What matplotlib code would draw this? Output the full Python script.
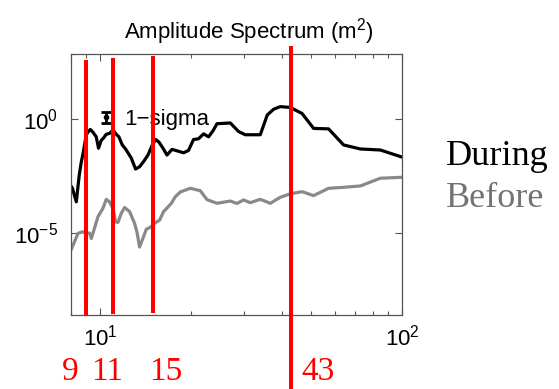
import matplotlib
matplotlib.use("Agg")
import matplotlib.pyplot as plt
from matplotlib import transforms
from matplotlib.ticker import FixedLocator, LogLocator, NullFormatter, NullLocator

# Amplitude spectra (frequency, amplitude in m^2)
freq_during = [8.0, 8.08, 8.33, 8.52, 8.65, 8.79, 8.99, 9.13, 9.27, 9.46, 9.70, 9.87,
               10.08, 10.25, 10.47, 10.73, 11.02, 11.30, 11.53, 11.83, 12.13, 12.67,
               13.09, 13.50, 13.92, 14.39, 14.88, 15.26, 15.65, 16.14, 16.64, 17.29,
               18.88, 19.61, 20.38, 21.17, 22.00, 22.86, 23.63, 24.37, 26.98, 28.74,
               30.24, 33.91, 35.77, 37.53, 39.50, 42.64, 46.64, 50.93, 57.11, 64.03,
               72.74, 84.76, 100.0]
amp_during = [1.2e-3, 9.7e-4, 2.4e-4, 3.6e-3, 1.3e-2, 3.7e-2, 0.21, 0.29, 0.36, 0.27,
              0.17, 0.054, 0.12, 0.15, 0.22, 0.24, 0.34, 0.22, 0.17, 0.075, 0.050,
              0.020, 6.6e-3, 8.3e-3, 0.014, 0.027, 0.075, 0.13, 0.10, 0.054, 0.027,
              0.048, 0.034, 0.043, 0.13, 0.14, 0.23, 0.17, 0.31, 0.64, 0.69, 0.29,
              0.21, 0.21, 1.55, 2.75, 3.6, 3.3, 1.8, 0.40, 0.38, 0.075, 0.050, 0.045,
              0.022]

freq_before = [8.0, 8.22, 8.44, 8.76, 8.99, 9.22, 9.34, 9.57, 9.83, 10.21, 10.47, 10.73,
               11.02, 11.24, 11.45, 11.74, 12.04, 12.51, 12.99, 13.23, 13.50, 13.85,
               14.21, 14.76, 15.14, 15.73, 16.21, 16.77, 17.20, 17.73, 18.42, 19.87,
               21.45, 22.58, 24.37, 26.98, 28.39, 29.85, 31.42, 33.91, 36.61, 39.50,
               42.64, 46.64, 50.93, 57.11, 64.03, 72.74, 84.76, 100.0]
amp_before = [1.85e-6, 4.3e-6, 1.0e-5, 1.17e-5, 9.8e-6, 1.03e-5, 5.9e-6, 1.66e-5,
              5.4e-5, 1.25e-4, 3.1e-4, 2.4e-4, 1.25e-4, 3.2e-5, 3.0e-5, 7.5e-5,
              1.35e-4, 9.0e-5, 2.75e-5, 1.17e-5, 2.5e-6, 6.0e-6, 1.5e-5, 1.95e-5,
              2.75e-5, 3.8e-5, 8.9e-5, 1.43e-4, 2.07e-4, 4.0e-4, 6.5e-4, 9.4e-4,
              7.4e-4, 3.0e-4, 2.07e-4, 2.6e-4, 2.03e-4, 2.9e-4, 2.2e-4, 3.1e-4,
              2.07e-4, 3.8e-4, 5.4e-4, 6.7e-4, 4.5e-4, 9.4e-4, 1.04e-3, 1.19e-3,
              2.6e-3, 2.86e-3]

# Marked periods
marks = [9, 11, 15, 43]

# 1-sigma error bar
sigma_freq = 10.47
sigma_amp = 1.2
sigma_low = 0.67
sigma_high = 2.15

series_names = ["During", "Before"]

plt.rcParams["font.family"] = ["Liberation Sans", "DejaVu Sans"]
plt.rcParams["mathtext.default"] = "regular"

W, H = 559, 389
fig = plt.figure(figsize=(W / 100, H / 100), dpi=100)
ax = fig.add_axes([71 / W, 1 - 314.7 / H, 331 / W, 260.7 / H])
ax.set_xscale("log")
ax.set_yscale("log")

ax.plot(freq_before, amp_before, color="#898989", lw=2.3, solid_joinstyle="round")
ax.plot(freq_during, amp_during, color="black", lw=2.3, solid_joinstyle="round")

ax.set_xlim(8, 100)
ax.set_ylim(2.69e-9, 731)

# error bar sample
ax.errorbar([sigma_freq], [sigma_amp],
            yerr=[[sigma_amp - sigma_low], [sigma_high - sigma_amp]],
            fmt="o", ms=3, color="black", ecolor="black",
            elinewidth=2, capsize=3.5, capthick=2)
ax.text(12.05, 0.59, "1\u2212sigma", fontsize=16, ha="left", va="baseline")

# ticks
ax.xaxis.set_major_locator(LogLocator(base=10))
ax.xaxis.set_minor_locator(LogLocator(base=10, subs=range(2, 10)))
ax.xaxis.set_minor_formatter(NullFormatter())
ax.yaxis.set_major_locator(FixedLocator([1e-5, 1e0]))
ax.yaxis.set_minor_locator(NullLocator())
ax.tick_params(which="both", direction="in", top=True, right=True,
               color="#555555", width=0.8, labelsize=16)
ax.tick_params(which="major", length=5)
ax.tick_params(which="minor", length=3)
ax.tick_params(axis="y", pad=9)
ax.tick_params(axis="x", pad=7)
for sp in ax.spines.values():
    sp.set_color("#555555")
    sp.set_linewidth(0.9)

ax.text(0.538, 1.061, "Amplitude Spectrum (m$^2$)", transform=ax.transAxes,
        ha="center", va="baseline", fontsize=16)

# vertical period markers with labels below the axes
blend = transforms.blended_transform_factory(ax.transData, ax.transAxes)
blend_fig = transforms.blended_transform_factory(ax.transData, fig.transFigure)
tops = [0.977, 0.985, 0.992, 1.031]
bottoms = [-0.005, 0.003, 0.008, -0.32]
label_dx = [-12, -4, 9, 19]  # points, label centre relative to line
for val, top, bot, dx in zip(marks, tops, bottoms, label_dx):
    ax.plot([val, val], [bot, top], transform=blend, color="#ff0000", lw=2.9,
            clip_on=False, solid_capstyle="butt", zorder=5)
    tr = transforms.offset_copy(blend_fig, fig=fig, x=dx, y=0, units="points")
    fig.text(val, 8.5 / H, str(val), transform=tr, ha="center", va="baseline",
             color="#ff0000", fontsize=24, family=["Liberation Serif", "DejaVu Serif"])

fig.text(446 / W, 1 - 165 / H, series_names[0], color="black", fontsize=26,
         family=["Liberation Serif", "DejaVu Serif"], ha="left", va="baseline")
fig.text(446 / W, 1 - 206.7 / H, series_names[1], color="#737373", fontsize=26,
         family=["Liberation Serif", "DejaVu Serif"], ha="left", va="baseline")

fig.savefig("out.png", dpi=100)
